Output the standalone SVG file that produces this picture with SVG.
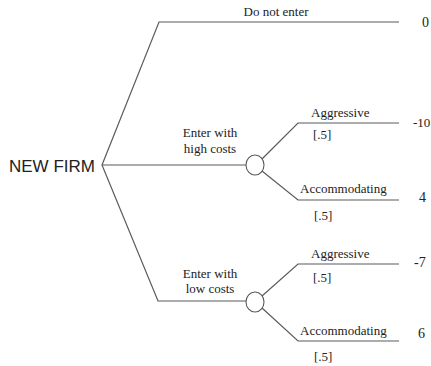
<svg xmlns="http://www.w3.org/2000/svg" width="431" height="366" viewBox="0 0 431 366">
<style>
.ln{fill:none;stroke:#5a5a5a;stroke-width:1.2}
.nd{fill:#fff;stroke:#5a5a5a;stroke-width:1.1}
.t{font-family:"Liberation Serif","Times New Roman",serif;font-size:13px;fill:#222}
.c{text-anchor:middle}
.p{font-size:14px}
.root{font-family:"Liberation Sans",Arial,sans-serif;font-size:17px;fill:#222}
</style>
<rect width="431" height="366" fill="#fff"/>
<g id="connectors">
<polyline class="ln" points="399,22 159,22 102,165 158,301 246,301"/>
<line class="ln" x1="102" y1="165" x2="246" y2="165"/>
<polyline class="ln" points="262,159 298,123 399,123"/>
<polyline class="ln" points="262,171 298,200 399,200"/>
<polyline class="ln" points="262,296 298,264 399,264"/>
<polyline class="ln" points="262,308 298,341 399,341"/>
</g>
<g id="new-firm">
<text class="root" x="9" y="172">NEW FIRM</text>
</g>
<g id="labels-entry">
<text class="t c" x="276" y="16">Do not enter</text>
<text class="t c" x="210" y="137">Enter with</text>
<text class="t c" x="210" y="153">high costs</text>
<text class="t c" x="210" y="278">Enter with</text>
<text class="t c" x="210" y="293">low costs</text>
</g>
<g id="chance-high">
<ellipse class="nd" cx="255" cy="165" rx="9" ry="10"/>
</g>
<g id="chance-low">
<ellipse class="nd" cx="255" cy="302" rx="9" ry="10"/>
</g>
<g id="branch-labels">
<text class="t" x="311" y="117">Aggressive</text>
<text class="t" x="313" y="139">[.5]</text>
<text class="t" x="300" y="193">Accommodating</text>
<text class="t" x="314" y="220">[.5]</text>
<text class="t" x="311" y="258">Aggressive</text>
<text class="t" x="313" y="282">[.5]</text>
<text class="t" x="300" y="335">Accommodating</text>
<text class="t" x="314" y="361">[.5]</text>
</g>
<g id="payoffs">
<text class="t p" x="422" y="27">0</text>
<text class="t" x="413" y="127">-10</text>
<text class="t p" x="419" y="202">4</text>
<text class="t p" x="414" y="267">-7</text>
<text class="t p" x="418" y="338">6</text>
</g>
</svg>
